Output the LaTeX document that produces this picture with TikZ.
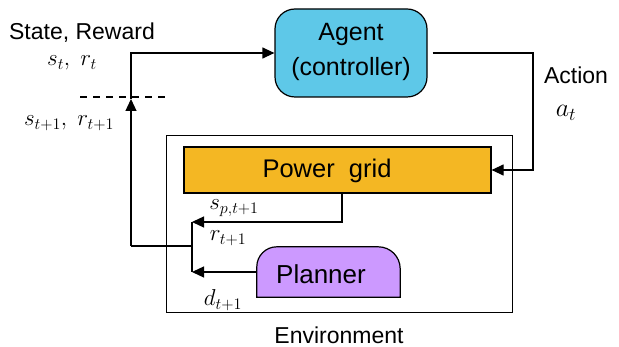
\RequirePackage{fix-cm}
\documentclass[tikz,border=0pt]{standalone}
\usepackage{fontspec}
\setmainfont{Liberation Sans}
\usetikzlibrary{arrows.meta}
\definecolor{agentblue}{RGB}{94,200,232}
\definecolor{gridorange}{RGB}{244,183,35}
\definecolor{planviolet}{RGB}{204,153,255}
\tikzset{
  box/.style={draw, line width=1.2pt, inner sep=0pt},
  conn/.style={line width=1.2pt},
  arr/.style={line width=1.2pt, -{Triangle[length=12pt,width=11pt]}},
  lbl/.style={inner sep=0pt, font=\fontsize{23}{27}\selectfont},
  mlbl/.style={inner sep=0pt, font=\fontsize{23}{27}\selectfont},
}
\begin{document}
\begin{tikzpicture}[x=1pt,y=-1pt]
\useasboundingbox (0,0) rectangle (619,347);
% boxes
\node[box, fill=agentblue, rounded corners=20pt, minimum width=152pt, minimum height=88pt] (agent) at (351,53) {};
\node[inner sep=0pt, align=center, font=\fontsize{25}{35}\selectfont] (agenttext) at (351,52) {Agent\\(controller)};
\node[box, line width=1pt, minimum width=346pt, minimum height=177pt] (env) at (339,224.5) {};
\node[box, fill=gridorange, minimum width=307pt, minimum height=46pt] (power) at (337.5,170) {};
\node[inner sep=0pt, font=\fontsize{25.5}{30}\selectfont] (powertext) at (327,171) {Power\ \ grid};
\node[minimum width=143pt, minimum height=50pt, inner sep=0pt] (planner) at (328.5,272) {};
\draw[line width=1.2pt, fill=planviolet]
  (planner.south west) -- ([yshift=-20pt]planner.north west)
  arc[start angle=180, end angle=90, radius=20pt]
  -- ([xshift=-22pt]planner.north east)
  arc[start angle=90, end angle=0, radius=22pt]
  -- (planner.south east) -- cycle;
\node[inner sep=0pt, font=\fontsize{26}{30}\selectfont] (plannertext) at (321,274) {Planner};
% labels
\node[lbl] (sr) at (82,33) {State, Reward};
\node[mlbl] (srt) at (72,63) {$s_t,\ r_t$};
\node[mlbl] (srt1) at (69,123) {$s_{t+1},\ r_{t+1}$};
\node[lbl] (action) at (576,75) {Action};
\node[mlbl, font=\fontsize{26}{30}\selectfont] (at) at (566,113) {$a_t$};
\node[mlbl] (spt) at (234,208) {$s_{p,t+1}$};
\node[mlbl] (rt) at (228,238) {$r_{t+1}$};
\node[mlbl] (dt) at (223,300) {$d_{t+1}$};
\node[lbl] (envlabel) at (339,335) {Environment};
% coordinates
\coordinate (dl) at (80,97);
\coordinate (dr) at (167,97);
\coordinate (dc) at (131,99);
\coordinate (jl) at (131,246);
\coordinate (jm) at (192,246);
\coordinate (jt) at (192,222);
\coordinate (jb) at (192,272);
\coordinate (pg) at (342,222);
\coordinate (ac) at (533,170);
% connectors
\draw[conn, dashed, dash pattern=on 7pt off 6pt] (dl) -- (dr);
\draw[arr] (jl) -- (dc);
\draw[arr] (dc) |- (agent.west);
\draw[arr] ([xshift=5pt]agent.east) -| (ac) -- (power.east);
\draw[arr] (power.south -| pg) -- (pg) -- (jt);
\draw[arr] (planner.west) -- (jb);
\draw[conn] (jt) -- (jb);
\draw[conn] (jm) -- (jl);
\end{tikzpicture}
\end{document}
